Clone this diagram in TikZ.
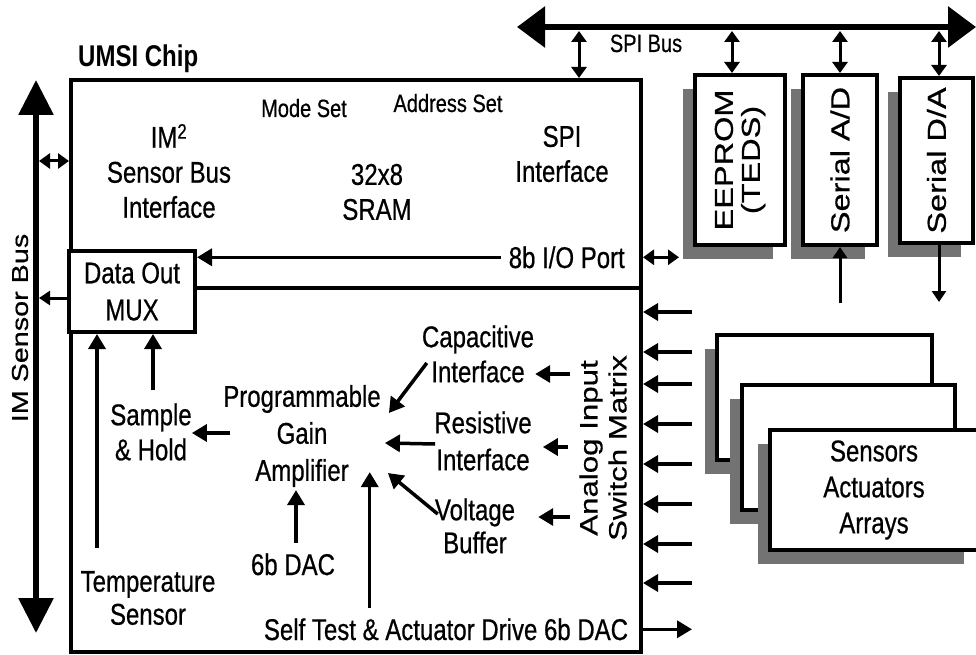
\documentclass[tikz,border=0pt]{standalone}
\usepackage{fontspec}
\setmainfont[FakeStretch=0.8, UprightFeatures={FakeBold=0.6}]{Liberation Sans}
\newfontfamily\rotfont[FakeStretch=1.25, FakeBold=0.6]{Liberation Sans}
\usetikzlibrary{arrows.meta,patterns,calc}
\begin{document}
\begin{tikzpicture}[x=1pt,y=-1pt,
  txt/.style={font=\fontsize{30}{35}\selectfont, inner sep=0pt, align=center},
  smalltxt/.style={font=\fontsize{25}{30}\selectfont, inner sep=0pt},
  rtxt/.style={font=\rotfont\fontsize{26}{27}\selectfont, rotate=90, inner sep=0pt, align=center},
  box/.style={draw, line width=4pt, fill=white, inner sep=0pt},
  stipple/.style={fill=black!55},
  arr/.style={line width=3.5pt, -{Triangle[length=15pt,width=17pt]}},
  sarr/.style={line width=3pt, -{Triangle[length=11pt,width=14pt]}},
  darr/.style={line width=3pt, {Triangle[length=11pt,width=15pt]}-{Triangle[length=11pt,width=15pt]}},
  spibus/.style={line width=6pt, {Triangle[length=28pt,width=40pt]}-{Triangle[length=28pt,width=40pt]}},
  imbus/.style={line width=6pt, {Triangle[length=35pt,width=34pt]}-{Triangle[length=35pt,width=34pt]}},
]
\useasboundingbox (0,0) rectangle (976,655);

% ---------- chip ----------
\node[draw, line width=4pt, minimum width=570pt, minimum height=572pt, inner sep=0pt, anchor=north west] (chip) at (69,78) {};
\node[font=\bfseries\fontsize{30}{35}\selectfont, anchor=base west, inner sep=0pt] (umsi) at (78,67) {UMSI Chip};
\node[box, txt, font=\fontsize{30}{37}\selectfont, minimum width=126pt, minimum height=81pt] (mux) at (132,291.5) {Data Out\\MUX};
\coordinate (ydiv) at (0,288);
\draw[line width=4pt] (mux.east |- ydiv) -- (chip.east |- ydiv);

% upper section texts
\node[txt] (im) at (169,171) {IM\textsuperscript{2}\\Sensor Bus\\Interface};
\node[smalltxt, anchor=base] (mode) at (304,117) {Mode Set};
\node[smalltxt, anchor=base] (addr) at (448,112) {Address Set};
\node[txt] (sram) at (377,192) {32x8\\SRAM};
\node[txt] (spi) at (562,154) {SPI\\Interface};
\node[txt, anchor=base east] (io) at (625,268) {8b I/O Port};
\draw[arr] ([xshift=-8pt]io.west) -- (mux.east |- io.west);
\draw[darr] (chip.east |- io.west) -- ++(36,0);

% ---------- IM sensor bus ----------
\coordinate (imT) at (36,80);
\coordinate (imB) at (36,633);
\draw[imbus] (imT) -- (imB);
\node[rtxt, font=\rotfont\fontsize{23}{25}\selectfont] (imlabel) at (20,328) {IM Sensor Bus};
\coordinate (y161) at (0,161);
\coordinate (y298) at (0,298);
\draw[darr, shorten <=3pt] (imT |- y161) -- (chip.west |- y161);
\draw[sarr, shorten >=3pt] (mux.west |- y298) -- (imT |- y298);

% ---------- SPI bus and devices ----------
\coordinate (spiL) at (517,27);
\coordinate (spiR) at (976,27);
\draw[spibus] (spiL) -- (spiR);
\node[smalltxt, anchor=base] (spilabel) at (646,52) {SPI Bus};

\fill[stipple] (683,89) rectangle (773,259);
\node[box, rtxt, minimum width=170pt, minimum height=90pt] (eeprom) at (740,160) {EEPROM\\(TEDS)};
\fill[stipple] (791,89) rectangle (865,259);
\node[box, rtxt, minimum width=170pt, minimum height=74pt] (ad) at (840,160) {Serial A/D};
\fill[stipple] (888,92) rectangle (961,257);
\node[box, rtxt, minimum width=165pt, minimum height=73pt] (da) at (936.5,160.5) {Serial D/A};

\coordinate (t1) at (579,31);
\coordinate (t2) at (732,31);
\coordinate (t3) at (840,31);
\coordinate (t4) at (939,31);
\draw[darr] (t1) -- (t1 |- chip.north);
\draw[darr] (t2) -- (t2 |- eeprom.east);
\draw[darr] (t3) -- (t3 |- ad.east);
\draw[darr] (t4) -- (t4 |- da.east);

\coordinate (adin) at (840,303);
\draw[sarr] (adin) -- (adin |- ad.west);
\coordinate (daout) at (939,302);
\draw[sarr] (daout |- da.west) -- (daout);

% ---------- analog input switch matrix ----------
\node[rtxt, font=\rotfont\fontsize{25}{29}\selectfont] (sw) at (603,448) {Analog Input\\Switch Matrix};
\foreach \yy [count=\i] in {312,352,384,424,464,504,544,583} {
  \coordinate (in\i) at (692,\yy);
  \draw[arr] (in\i) -- (chip.east |- in\i);
}

% ---------- sensor stack ----------
\fill[stipple] (705,349) rectangle (920,474);
\node[box, minimum width=215pt, minimum height=125pt] (back) at (824.5,397.5) {};
\fill[stipple] (730,399) rectangle (943,524);
\node[box, minimum width=213pt, minimum height=125pt] (mid) at (848.5,447.5) {};
\fill[stipple] (758,444) rectangle (964,564);
\node[box, txt, font=\fontsize{30}{36}\selectfont, minimum width=208pt, minimum height=120pt] (sens) at (874,490) {Sensors\\Actuators\\Arrays};

% ---------- lower section ----------
\node[txt] (cap) at (478,354) {Capacitive\\Interface};
\node[txt, font=\fontsize{30}{37}\selectfont] (res) at (483,441) {Resistive\\Interface};
\node[txt, font=\fontsize{30}{33}\selectfont] (volt) at (475,526) {Voltage\\Buffer};
\node[txt, font=\fontsize{30}{37}\selectfont] (pga) at (302,436) {Programmable\\Gain\\Amplifier};
\node[txt] (sh) at (151,432) {Sample\\\& Hold};
\node[txt, anchor=base] (dac) at (293,575) {6b DAC};
\node[txt, font=\fontsize{30}{33}\selectfont] (temp) at (148,598) {Temperature\\Sensor};
\node[txt, anchor=base] (st) at (446,640) {Self Test \& Actuator Drive 6b DAC};

\draw[arr] ($(cap.east)+(36,20)$) -- ++(-35,0);
\draw[arr] ($(res.east)+(36,6)$) -- ++(-25,0);
\draw[arr] ($(volt.east)+(55,-9)$) -- ++(-32,0);
\draw[arr] ($(cap.west)+(5,9)$) -- ($(pga.east)+(8,-23)$);
\draw[arr] ($(res.west)+(1,3)$) -- ($(pga.east)+(4,7)$);
\draw[arr] ($(volt.west)+(3,-12)$) -- ($(pga.east)+(7,37)$);
\coordinate (stup) at ($(st.north west)+(106,-10)$);
\draw[arr] (stup) -- ++(0,-136);
\coordinate (dacup) at ($(dac.north)+(3,-10)$);
\draw[arr] (dacup) -- ++(0,-53);
\draw[arr] ($(pga.west)+(7,-3)$) -- ($(sh.east)+(0,1)$);
\coordinate (shtop) at ($(sh.north)+(2,-13)$);
\draw[arr] (shtop) -- (shtop |- mux.south);
\coordinate (ttop) at ($(temp.north)+(-51,-23)$);
\draw[arr] (ttop) -- (ttop |- mux.south);
\draw[arr] (chip.east |- st.east) -- ++(49,0);
\end{tikzpicture}
\end{document}
